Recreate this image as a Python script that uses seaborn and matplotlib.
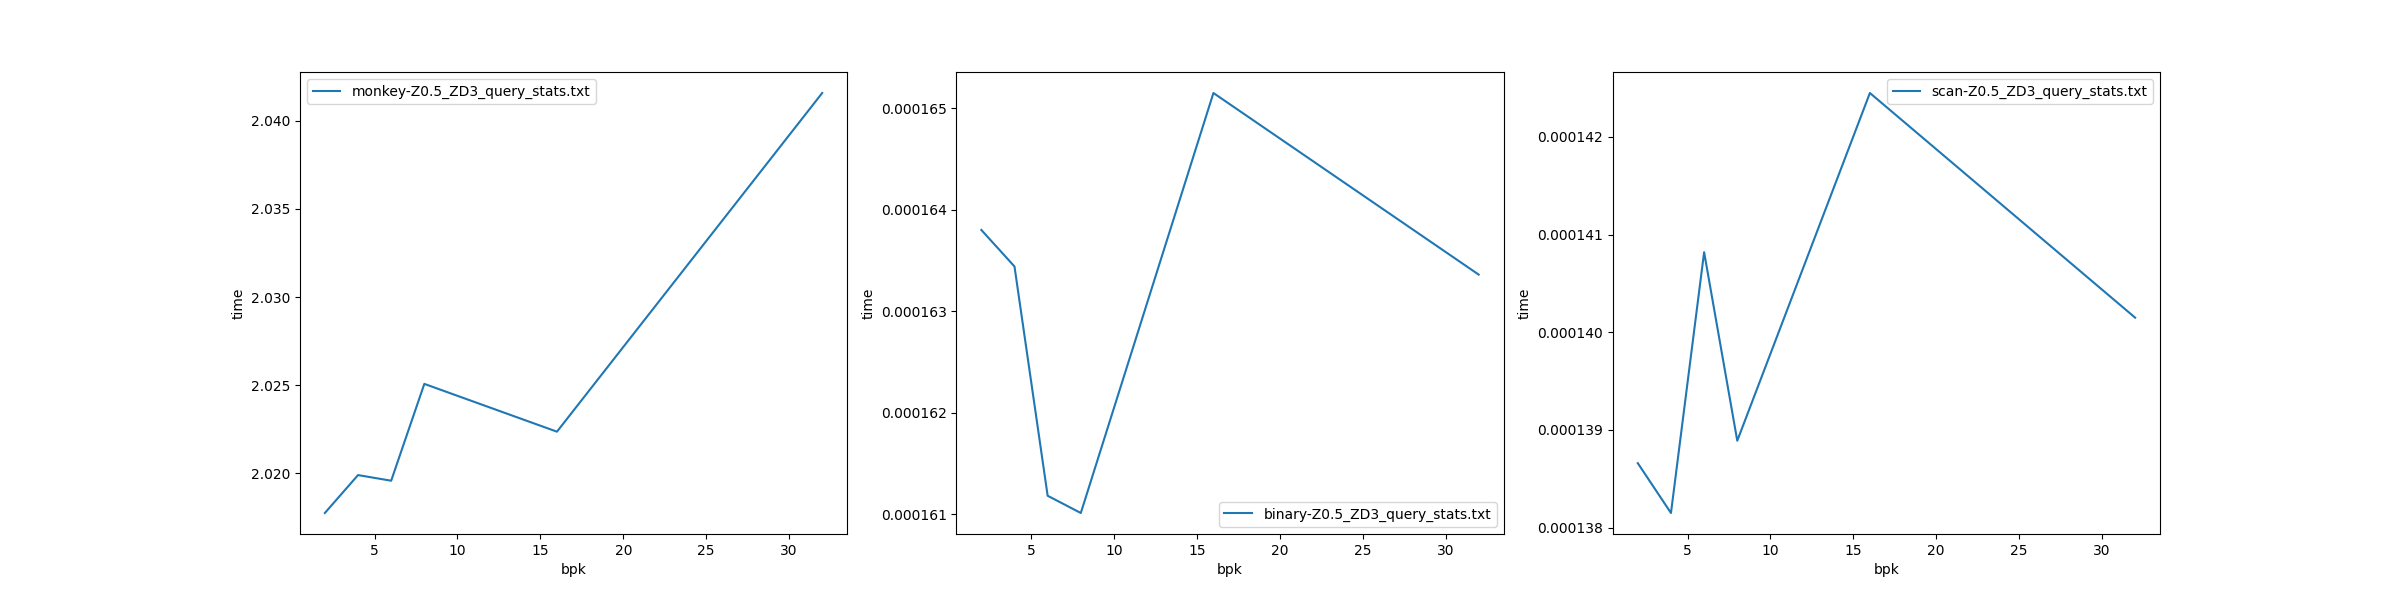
import matplotlib
matplotlib.use("Agg")
import matplotlib.pyplot as plt
import seaborn as sns
import pandas as pd

# bits per key used in every run
bpk = [2, 4, 6, 8, 16, 32]

# query time per structure
monkey_time = [2.01776, 2.01991, 2.01959, 2.02508, 2.02237, 2.04157]
binary_time = [0.00016380, 0.00016344, 0.00016118, 0.00016101, 0.00016515, 0.00016336]
scan_time = [0.00013866, 0.00013815, 0.00014082, 0.00013889, 0.00014245, 0.00014015]

labels = [
    "monkey-Z0.5_ZD3_query_stats.txt",
    "binary-Z0.5_ZD3_query_stats.txt",
    "scan-Z0.5_ZD3_query_stats.txt",
]
legend_locs = ["upper left", "lower right", "upper right"]


fig, axes = plt.subplots(1, 3, figsize=(24, 6), dpi=100)

for ax, times, label, loc in zip(axes, [monkey_time, binary_time, scan_time], labels, legend_locs):
    df = pd.DataFrame({"bpk": bpk, "time": times})
    sns.lineplot(data=df, x="bpk", y="time", ax=ax, label=label)
    ax.legend(loc=loc)

fig.savefig("out.png", dpi=100)
